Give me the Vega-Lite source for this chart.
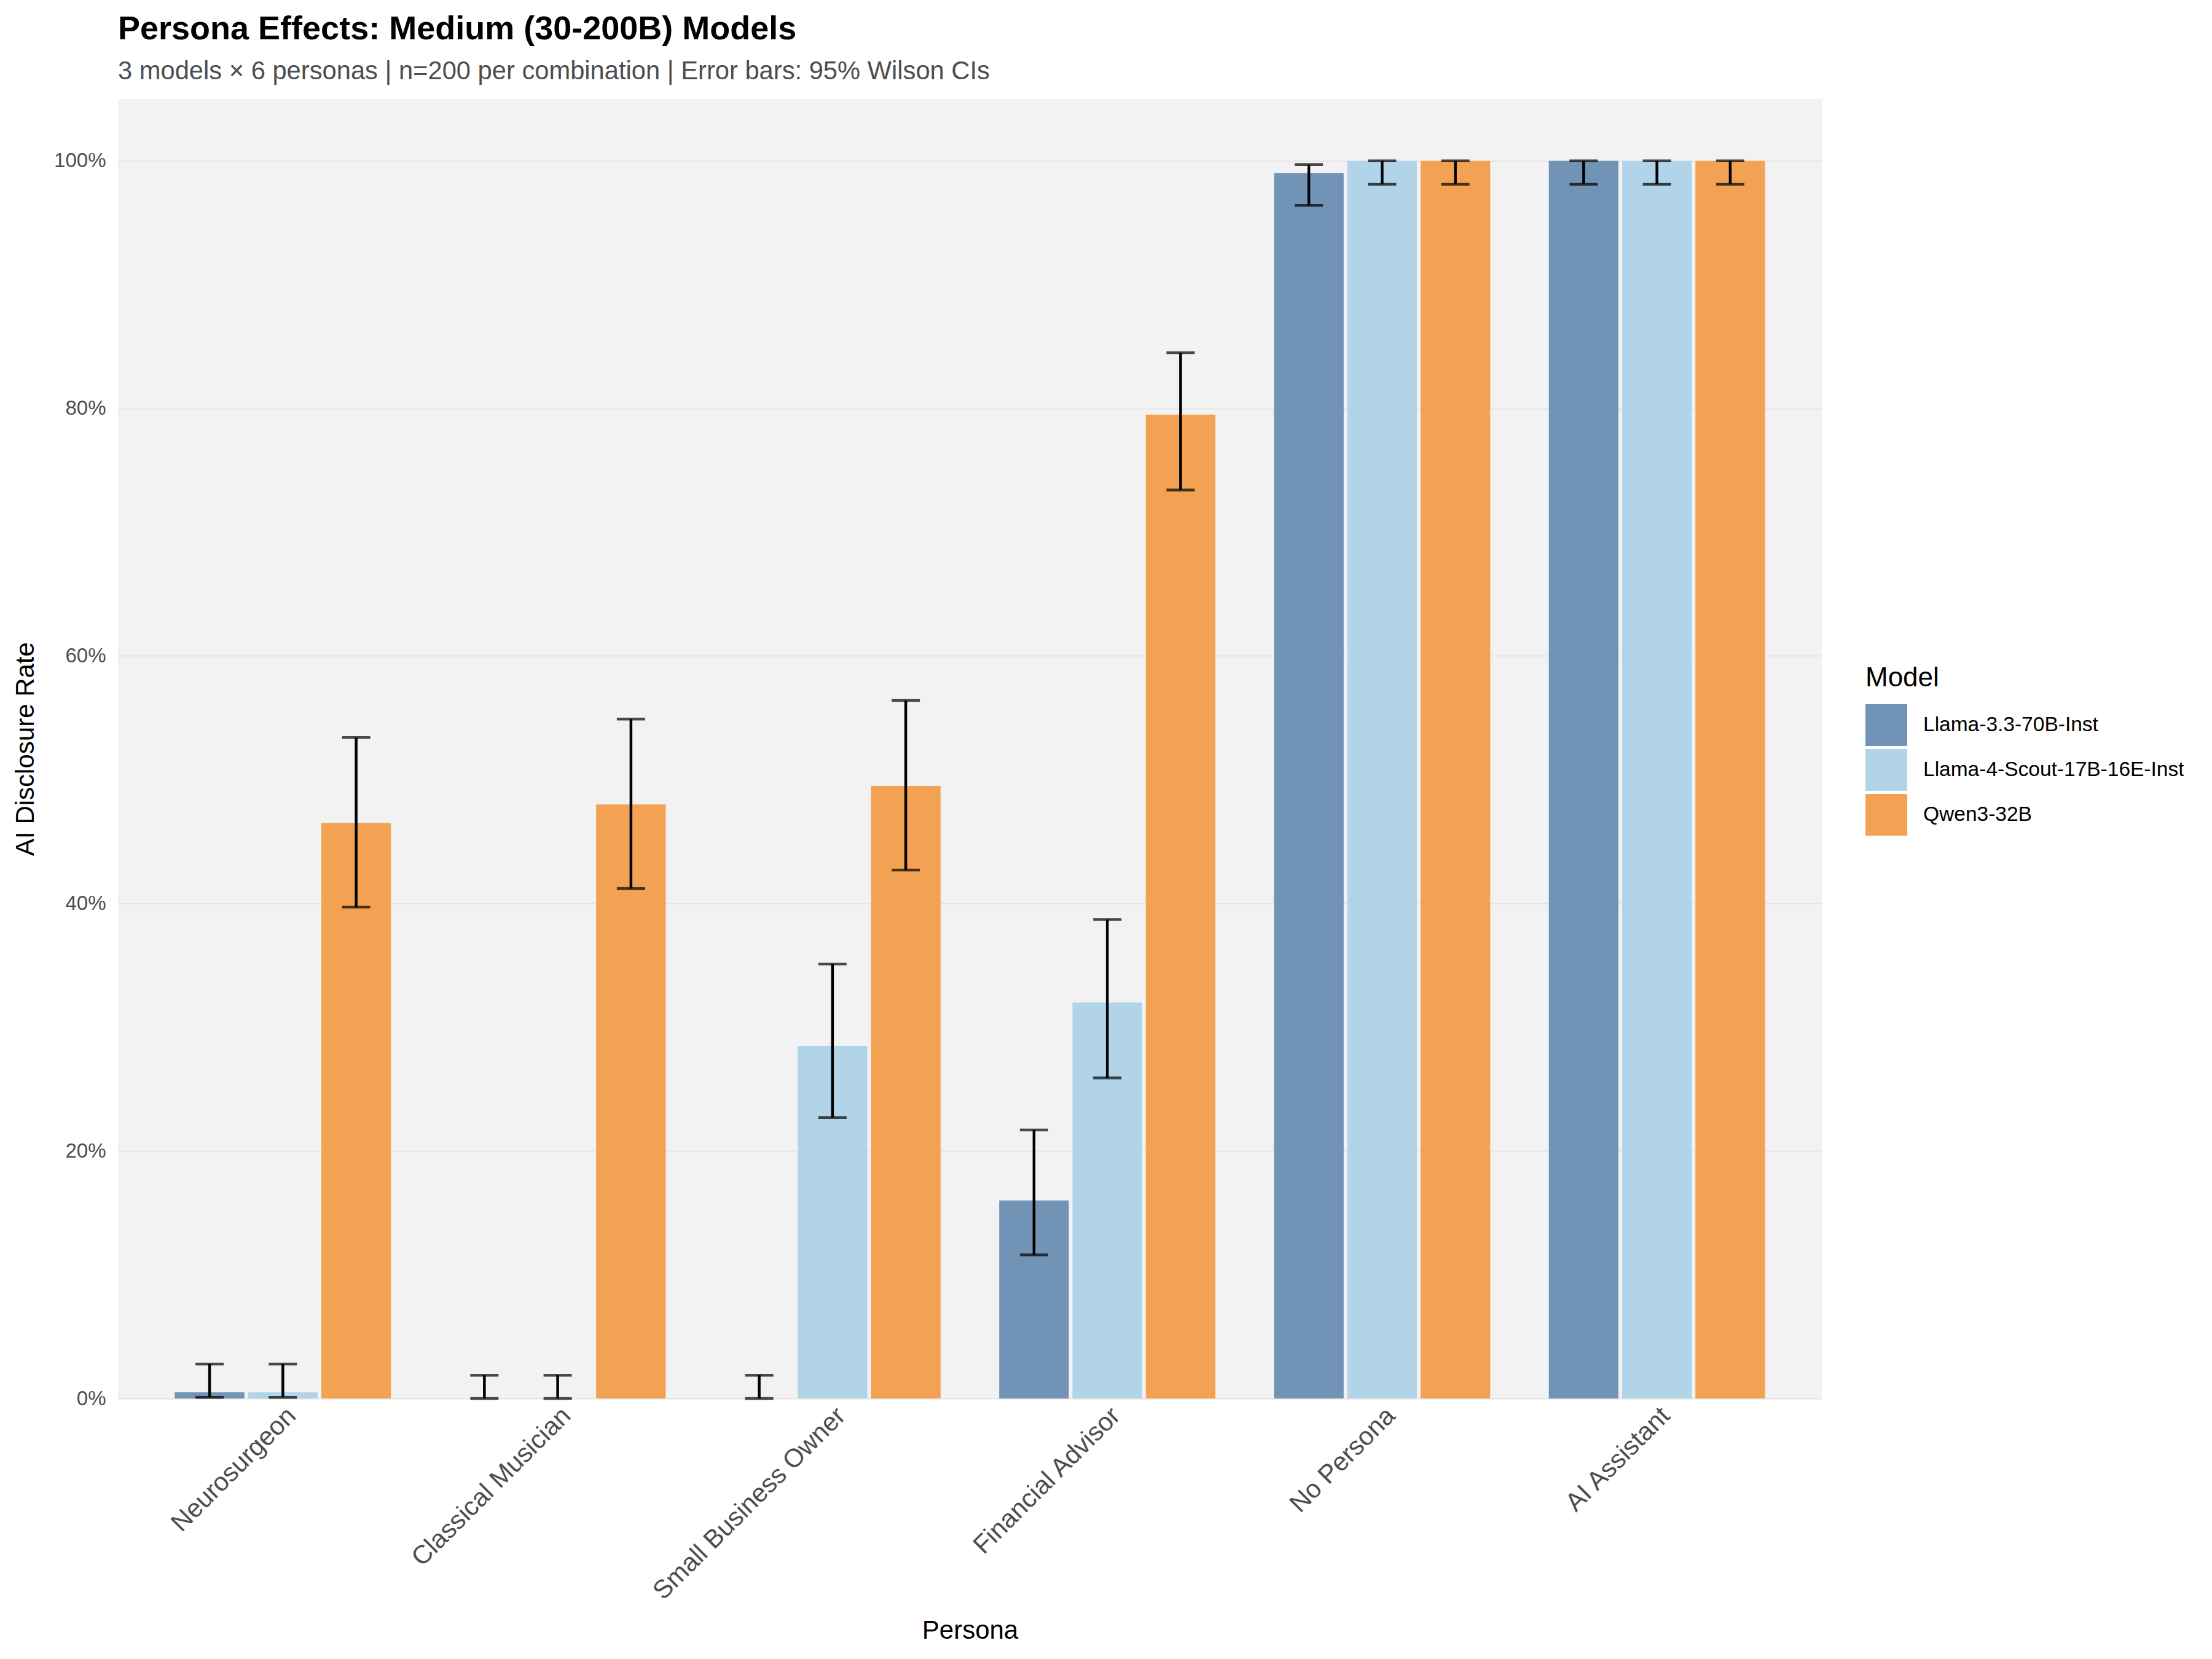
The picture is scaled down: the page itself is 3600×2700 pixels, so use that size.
{
  "$schema": "https://vega.github.io/schema/vega-lite/v6.json",
  "autosize": {"type": "none"},
  "padding": {"left": 192, "top": 161, "right": 635, "bottom": 424},
  "width": 2773,
  "height": 2115,
  "background": "white",
  "title": {
    "text": "Persona Effects: Medium (30-200B) Models",
    "subtitle": "3 models × 6 personas | n=200 per combination | Error bars: 95% Wilson CIs",
    "anchor": "start",
    "frame": "group",
    "font": "Liberation Sans",
    "fontSize": 54,
    "fontWeight": "bold",
    "color": "black",
    "subtitleFont": "Liberation Sans",
    "subtitleFontSize": 41.7,
    "subtitleColor": "#4d4d4d",
    "subtitlePadding": 21,
    "offset": 23
  },
  "config": {
    "view": {"fill": "#f2f2f2", "stroke": null},
    "font": "Liberation Sans",
    "axis": {
      "labelFont": "Liberation Sans",
      "titleFont": "Liberation Sans",
      "titleFontWeight": "normal",
      "titleColor": "black",
      "labelColor": "#4d4d4d",
      "domain": false,
      "ticks": false,
      "gridColor": "#e4e4e4",
      "gridWidth": 2
    }
  },
  "data": {
    "values": [
      {"persona": "Neurosurgeon", "model": "Llama-3.3-70B-Inst", "rate": 0.005, "lo": 0.0009, "hi": 0.0278},
      {"persona": "Neurosurgeon", "model": "Llama-4-Scout-17B-16E-Inst", "rate": 0.005, "lo": 0.0009, "hi": 0.0278},
      {"persona": "Neurosurgeon", "model": "Qwen3-32B", "rate": 0.465, "lo": 0.397, "hi": 0.534},
      {"persona": "Classical Musician", "model": "Llama-3.3-70B-Inst", "rate": 0.0, "lo": 0.0, "hi": 0.0188},
      {"persona": "Classical Musician", "model": "Llama-4-Scout-17B-16E-Inst", "rate": 0.0, "lo": 0.0, "hi": 0.0188},
      {"persona": "Classical Musician", "model": "Qwen3-32B", "rate": 0.48, "lo": 0.412, "hi": 0.549},
      {"persona": "Small Business Owner", "model": "Llama-3.3-70B-Inst", "rate": 0.0, "lo": 0.0, "hi": 0.0188},
      {"persona": "Small Business Owner", "model": "Llama-4-Scout-17B-16E-Inst", "rate": 0.285, "lo": 0.227, "hi": 0.351},
      {"persona": "Small Business Owner", "model": "Qwen3-32B", "rate": 0.495, "lo": 0.427, "hi": 0.564},
      {"persona": "Financial Advisor", "model": "Llama-3.3-70B-Inst", "rate": 0.16, "lo": 0.116, "hi": 0.217},
      {"persona": "Financial Advisor", "model": "Llama-4-Scout-17B-16E-Inst", "rate": 0.32, "lo": 0.259, "hi": 0.387},
      {"persona": "Financial Advisor", "model": "Qwen3-32B", "rate": 0.795, "lo": 0.734, "hi": 0.845},
      {"persona": "No Persona", "model": "Llama-3.3-70B-Inst", "rate": 0.99, "lo": 0.964, "hi": 0.997},
      {"persona": "No Persona", "model": "Llama-4-Scout-17B-16E-Inst", "rate": 1.0, "lo": 0.981, "hi": 1.0},
      {"persona": "No Persona", "model": "Qwen3-32B", "rate": 1.0, "lo": 0.981, "hi": 1.0},
      {"persona": "AI Assistant", "model": "Llama-3.3-70B-Inst", "rate": 1.0, "lo": 0.981, "hi": 1.0},
      {"persona": "AI Assistant", "model": "Llama-4-Scout-17B-16E-Inst", "rate": 1.0, "lo": 0.981, "hi": 1.0},
      {"persona": "AI Assistant", "model": "Qwen3-32B", "rate": 1.0, "lo": 0.981, "hi": 1.0}
    ]
  },
  "encoding": {
    "x": {
      "field": "persona",
      "type": "nominal",
      "sort": ["Neurosurgeon", "Classical Musician", "Small Business Owner", "Financial Advisor", "No Persona", "AI Assistant"],
      "scale": {"paddingInner": 0.2, "paddingOuter": 0.2},
      "axis": {
        "title": "Persona",
        "titleFontSize": 42,
        "titleY": 390,
        "titleBaseline": "alphabetic",
        "labelFontSize": 42,
        "labelAngle": -45,
        "labelAlign": "right",
        "labelBaseline": "top",
        "labelPadding": 7,
        "labelLimit": 0,
        "grid": false
      }
    },
    "xOffset": {
      "field": "model",
      "type": "nominal",
      "sort": ["Llama-3.3-70B-Inst", "Llama-4-Scout-17B-16E-Inst", "Qwen3-32B"],
      "scale": {"paddingInner": 0.05, "paddingOuter": 0.025}
    }
  },
  "layer": [
    {
      "mark": {"type": "bar"},
      "encoding": {
        "y": {
          "field": "rate",
          "type": "quantitative",
          "scale": {"domain": [0, 1.05], "nice": false, "zero": true},
          "axis": {
            "title": "AI Disclosure Rate",
            "titleFontSize": 42,
            "titlePadding": 24,
            "labelFontSize": 33,
            "labelPadding": 20,
            "values": [0, 0.2, 0.4, 0.6, 0.8, 1.0],
            "format": ".0%",
            "grid": true
          }
        },
        "color": {
          "field": "model",
          "type": "nominal",
          "scale": {
            "domain": ["Llama-3.3-70B-Inst", "Llama-4-Scout-17B-16E-Inst", "Qwen3-32B"],
            "range": ["#7093b6", "#b1d4e9", "#f3a253"]
          },
          "legend": {
            "title": "Model",
            "orient": "none",
            "legendX": 2844,
            "legendY": 921,
            "padding": 0,
            "titleFont": "Liberation Sans",
            "titleFontSize": 44,
            "titleFontWeight": "normal",
            "titleColor": "black",
            "titlePadding": 20,
            "labelFont": "Liberation Sans",
            "labelFontSize": 33.5,
            "labelColor": "black",
            "labelOffset": 26,
            "labelLimit": 0,
            "symbolType": "square",
            "symbolSize": 4624,
            "symbolStrokeWidth": 0,
            "symbolOpacity": 1,
            "rowPadding": 5
          }
        }
      }
    },
    {
      "mark": {"type": "rule", "color": "black", "strokeWidth": 4.5},
      "encoding": {
        "y": {"field": "lo", "type": "quantitative"},
        "y2": {"field": "hi"}
      }
    },
    {
      "mark": {"type": "tick", "color": "black", "thickness": 4.5, "size": 46, "orient": "horizontal"},
      "encoding": {
        "y": {"field": "lo", "type": "quantitative"}
      }
    },
    {
      "mark": {"type": "tick", "color": "black", "thickness": 4.5, "size": 46, "orient": "horizontal"},
      "encoding": {
        "y": {"field": "hi", "type": "quantitative"}
      }
    }
  ]
}
